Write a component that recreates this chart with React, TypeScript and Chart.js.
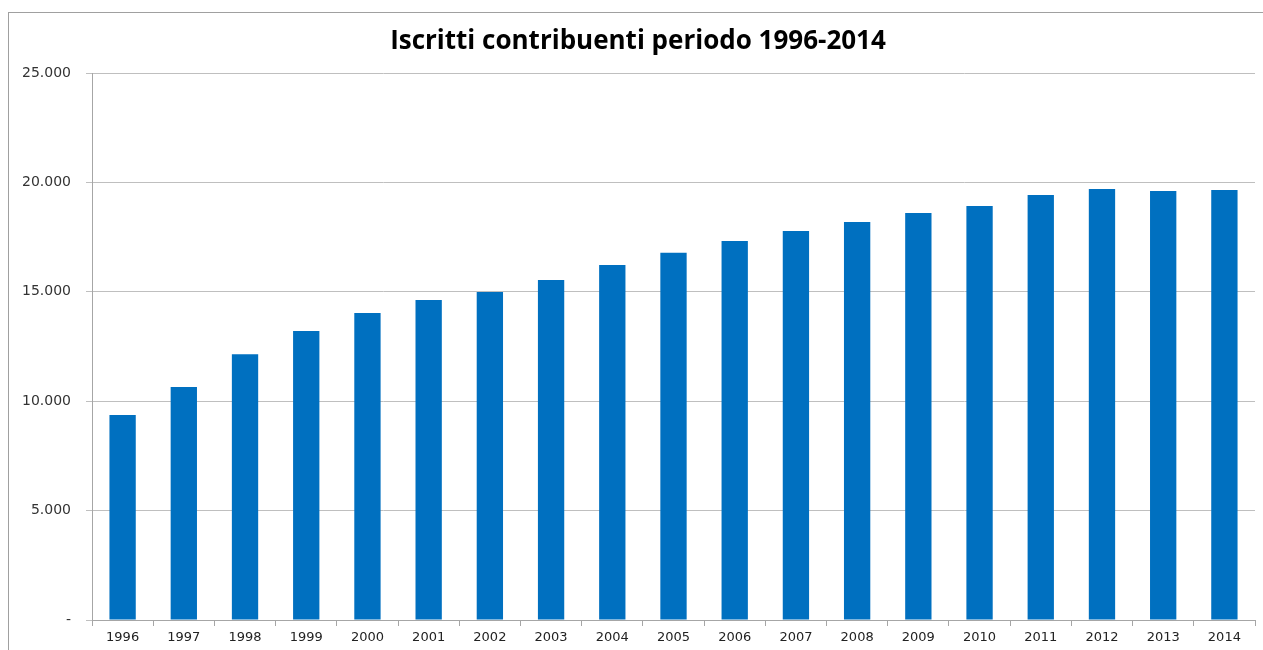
import React, { useEffect, useRef } from "react";
import { Chart, registerables } from "chart.js";

Chart.register(...registerables);

const years = ["1996","1997","1998","1999","2000","2001","2002","2003","2004","2005","2006","2007","2008","2009","2010","2011","2012","2013","2014"];
const iscritti = [9370, 10650, 12150, 13210, 14030, 14620, 14990, 15540, 16230, 16780, 17320, 17780, 18190, 18600, 18920, 19420, 19700, 19610, 19650];
const yTicks = [0, 5000, 10000, 15000, 20000, 25000];
const titleText = "Iscritti contribuenti periodo 1996-2014";

function fmt(v: number): string {
  if (v === 0) return "-";
  return v.toString().replace(/\B(?=(\d{3})+(?!\d))/g, ".");
}

const titlePlugin = {
  id: "customTitle",
  afterDraw(chart: any) {
    const ctx = chart.ctx;
    ctx.save();
    ctx.font = "bold 26px 'Open Sans'";
    ctx.fillStyle = "#000";
    ctx.textAlign = "center";
    ctx.textBaseline = "middle";
    ctx.fillText(titleText, 638, 42);
    ctx.restore();
  },
};

export default function App() {
  const ref = useRef<HTMLCanvasElement>(null);
  useEffect(() => {
    if (!ref.current) return;
    const chart = new Chart(ref.current, {
      type: "bar",
      data: {
        labels: years,
        datasets: [
          {
            data: iscritti,
            backgroundColor: "#0070c0",
            borderWidth: 0,
            barPercentage: 0.43,
            categoryPercentage: 1,
          },
        ],
      },
      plugins: [titlePlugin],
      options: {
        animation: false,
        responsive: false,
        layout: { padding: { left: 0, right: 8, top: 73, bottom: 0 } },
        plugins: {
          legend: { display: false },
          tooltip: { enabled: false },
          title: { display: false },
        },
        scales: {
          x: {
            grid: {
              display: true,
              drawOnChartArea: false,
              drawTicks: true,
              tickLength: 6,
              color: "#a6a6a6",
              offset: true,
            },
            border: { display: true, color: "#a6a6a6" },
            ticks: {
              color: "#222",
              font: { family: "DejaVu Sans", size: 13 },
              padding: 4,
              maxRotation: 0,
              autoSkip: false,
            },
            afterFit: (s: any) => { s.height = 30; },
          },
          y: {
            min: 0,
            max: 25000,
            afterBuildTicks: (s: any) => { s.ticks = yTicks.map((v) => ({ value: v })); },
            grid: { color: "#bfbfbf", tickLength: 6 },
            border: { display: true, color: "#a6a6a6" },
            ticks: {
              color: "#333",
              font: { family: "DejaVu Sans", size: 14 },
              padding: 15,
              callback: (v: any) => fmt(Number(v)),
            },
            afterFit: (s: any) => { s.width = 92; },
          },
        },
      },
    });
    return () => chart.destroy();
  }, []);
  return (
    <div style={{ position: "fixed", left: 0, top: 0, width: 1263, height: 650, background: "#fff", overflow: "hidden" }}>
      <div style={{ position: "absolute", left: 8, top: 12, width: 1300, height: 700, border: "1px solid #a0a0a0" }} />
      <canvas ref={ref} width={1263} height={650} style={{ position: "absolute", left: 0, top: 0 }} />
    </div>
  );
}
